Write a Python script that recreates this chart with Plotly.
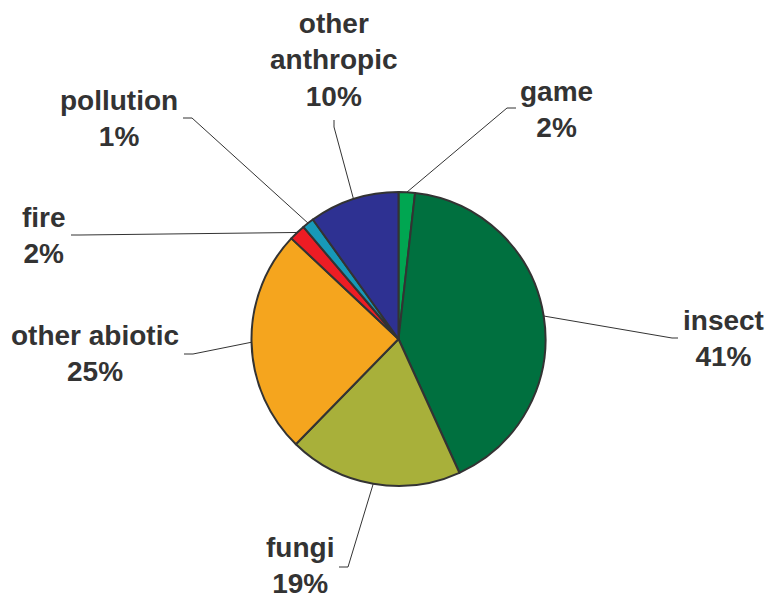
import math
import plotly.graph_objects as go

# ---- data ----
labels = ["game", "insect", "fungi", "other abiotic", "fire", "pollution", "other anthropic"]
values = [1.8, 41.4, 19.1, 24.7, 1.8, 1.3, 9.9]
label_text = ["game", "insect", "fungi", "other abiotic", "fire", "pollution", "other<br>anthropic"]

# ---- styles / layout ----
colors = ["#00a651", "#00703f", "#a8b03a", "#f5a51e", "#ed1c24", "#1799b8", "#2e3192"]
W, H = 769, 599
CX, CY, R = 398.5, 339.0, 147.0
# label centre, elbow point, line end (pixels)
label_pos = [(556, 110), (723, 338), (300, 565), (95, 353), (44, 235), (119, 119), (334, 60)]
elbow_pos = [(507, 108), (672, 338), (348, 567), (193, 354), (80, 235), (192, 118), (334, 127)]
end_pos = [(516, 108), (678, 338), (339, 567), (184, 354), (71, 235), (183, 118), (334, 120)]
TEXT_COLOR = "#333333"
FONT = dict(family="Liberation Sans, Arial, sans-serif", size=28, color=TEXT_COLOR)


def px(x):
    return x / W


def py(y):
    return 1 - y / H


fig = go.Figure()
fig.add_trace(go.Pie(
    labels=labels,
    values=values,
    sort=False,
    direction="clockwise",
    rotation=0,
    marker=dict(colors=colors, line=dict(color="#333333", width=2)),
    textinfo="none",
    hoverinfo="label+percent",
    showlegend=False,
    domain=dict(x=[px(CX - R), px(CX + R)], y=[py(CY + R), py(CY - R)]),
))

total = sum(values)
cum = 0.0
shapes = []
annotations = []
for i, v in enumerate(values):
    mid = (cum + v / 2) / total
    cum += v
    th = 2 * math.pi * mid
    rx = CX + R * math.sin(th)
    ry = CY - R * math.cos(th)
    ex, ey = elbow_pos[i]
    tx, ty = end_pos[i]
    path = f"M {px(rx)},{py(ry)} L {px(ex)},{py(ey)} L {px(tx)},{py(ty)}"
    shapes.append(dict(type="path", path=path, xref="paper", yref="paper",
                       line=dict(color="#333333", width=1)))
    pct = round(v / total * 100)
    lx, ly = label_pos[i]
    annotations.append(dict(
        x=px(lx), y=py(ly), xref="paper", yref="paper",
        text=f"<b>{label_text[i]}<br>{pct}%</b>",
        showarrow=False, xanchor="center", yanchor="middle",
        align="center", font=FONT,
    ))

fig.update_layout(
    width=W, height=H,
    margin=dict(l=0, r=0, t=0, b=0),
    paper_bgcolor="white", plot_bgcolor="white",
    shapes=shapes, annotations=annotations,
)
fig.write_html(
    "out.html",
    config={"displayModeBar": False},
    post_script="document.body.style.margin='0';document.body.style.overflow='hidden';",
)
